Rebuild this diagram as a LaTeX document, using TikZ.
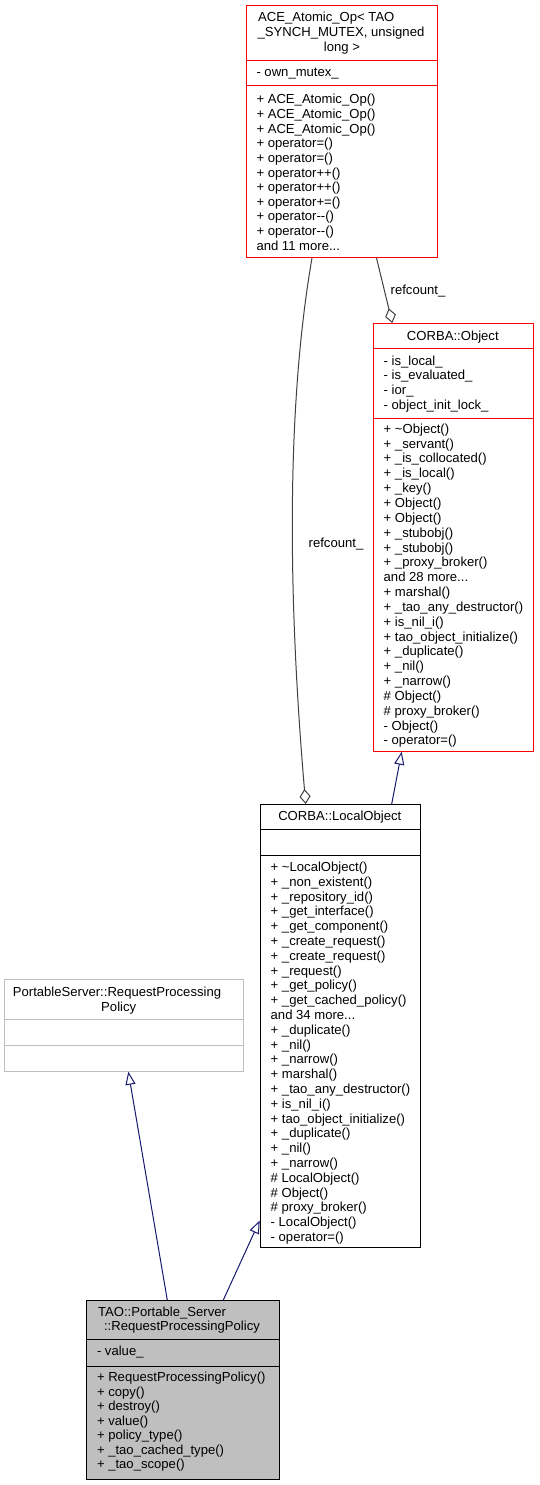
\documentclass[tikz,border=0pt]{standalone}
\usepackage{fontspec}
\setmainfont{Liberation Sans}[Ligatures=TeXOff]
\usetikzlibrary{arrows.meta,calc}
\definecolor{navy}{HTML}{191970}
\definecolor{edgegray}{HTML}{404040}
\definecolor{lgray}{HTML}{BFBFBF}
\definecolor{boxred}{HTML}{FF0000}
\newcommand\mydots{...}
\begin{document}
\begin{tikzpicture}[x=1pt,y=-1pt,line width=1pt,
  box/.style={draw,rectangle,inner sep=0pt,anchor=north west,fill=white},
  txt/.style={anchor=base west,inner sep=0pt},
  ttl/.style={anchor=base,inner sep=0pt},
  font=\fontsize{13.1}{14.8}\selectfont,
  inh/.style={draw=navy,-{Triangle[open,length=13pt,width=10pt]}},
  agg/.style={draw=edgegray,-{Diamond[open,length=15pt,width=11pt]}}]
\useasboundingbox[fill=white] (0,0) rectangle (539,1485);

% ---------- ACE_Atomic_Op ----------
\node[box,draw=boxred,minimum width=191pt,minimum height=251.5pt] (ace) at (245.5,5.5) {};
\draw[boxred] (ace.west |- 0,60.5) -- (ace.east |- 0,60.5);
\draw[boxred] (ace.west |- 0,86) -- (ace.east |- 0,86);
\node[ttl] (ace-t1) at (326.3,21.8) {ACE\_Atomic\_Op< TAO};
\node[ttl] (ace-t2) at (341,36.8) {\_SYNCH\_MUTEX, unsigned};
\node[ttl] (ace-t3) at (342,51.8) {long >};
\node[txt] (ace-a0) at (256,76.7) {- own\_mutex\_};
\foreach [count=\i from 0] \t in {+ ACE\_Atomic\_Op(),+ ACE\_Atomic\_Op(),+ ACE\_Atomic\_Op(),
  + operator=(),+ operator=(),+ operator++(),+ operator++(),+ operator+=(),
  + operator--(),+ operator--(),and 11 more\mydots}
  \node[txt] (ace-m\i) at (256,104+\i*14.6) {\t};

% ---------- CORBA::Object ----------
\node[box,draw=boxred,minimum width=160.3pt,minimum height=427.7pt] (obj) at (372.7,323) {};
\draw[boxred] (obj.west |- 0,348.3) -- (obj.east |- 0,348.3);
\draw[boxred] (obj.west |- 0,418.3) -- (obj.east |- 0,418.3);
\node[ttl] (obj-t1) at (452.8,340) {CORBA::Object};
\foreach [count=\i from 0] \t in {- is\_local\_,- is\_evaluated\_,- ior\_,- object\_init\_lock\_}
  \node[txt] (obj-a\i) at (383.2,365+\i*14.7) {\t};
\foreach [count=\i from 0] \t in {+ \textasciitilde Object(),+ \_servant(),+ \_is\_collocated(),
  + \_is\_local(),+ \_key(),+ Object(),+ Object(),+ \_stubobj(),+ \_stubobj(),
  + \_proxy\_broker(),and 28 more\mydots,+ marshal(),+ \_tao\_any\_destructor(),
  + is\_nil\_i(),+ tao\_object\_initialize(),+ \_duplicate(),+ \_nil(),
  + \_narrow(),\# Object(),\# proxy\_broker(),- Object(),- operator=()}
  \node[txt] (obj-m\i) at (383.2,433.3+\i*14.84) {\t};

% ---------- CORBA::LocalObject ----------
\node[box,draw=black,minimum width=160.3pt,minimum height=442.7pt] (lo) at (259.7,804) {};
\draw (lo.west |- 0,829.3) -- (lo.east |- 0,829.3);
\draw (lo.west |- 0,855) -- (lo.east |- 0,855);
\node[ttl] (lo-t1) at (339.8,820.7) {CORBA::LocalObject};
\foreach [count=\i from 0] \t in {+ \textasciitilde LocalObject(),+ \_non\_existent(),
  + \_repository\_id(),+ \_get\_interface(),+ \_get\_component(),
  + \_create\_request(),+ \_create\_request(),+ \_request(),+ \_get\_policy(),
  + \_get\_cached\_policy(),and 34 more\mydots,+ \_duplicate(),+ \_nil(),
  + \_narrow(),+ marshal(),+ \_tao\_any\_destructor(),+ is\_nil\_i(),
  + tao\_object\_initialize(),+ \_duplicate(),+ \_nil(),+ \_narrow(),
  \# LocalObject(),\# Object(),\# proxy\_broker(),- LocalObject(),- operator=()}
  \node[txt] (lo-m\i) at (270.2,871.5+\i*14.8) {\t};

% ---------- PortableServer::RequestProcessingPolicy ----------
\node[box,draw=lgray,minimum width=238.7pt,minimum height=91.7pt] (ps) at (4,979) {};
\draw[lgray] (ps.west |- 0,1019.3) -- (ps.east |- 0,1019.3);
\draw[lgray] (ps.west |- 0,1045) -- (ps.east |- 0,1045);
\node[ttl] (ps-t1) at (117,996.7) {PortableServer::RequestProcessing};
\node[ttl] (ps-t2) at (118.7,1011.7) {Policy};

% ---------- TAO::Portable_Server::RequestProcessingPolicy ----------
\node[box,draw=black,fill=lgray,minimum width=193pt,minimum height=178.7pt] (bot) at (86,1300) {};
\draw (bot.west |- 0,1339.3) -- (bot.east |- 0,1339.3);
\draw (bot.west |- 0,1366) -- (bot.east |- 0,1366);
\node[ttl] (bot-t1) at (162,1316) {TAO::Portable\_Server};
\node[ttl] (bot-t2) at (182,1330.7) {::RequestProcessingPolicy};
\node[txt] (bot-a0) at (96.5,1355) {- value\_};
\foreach [count=\i from 0] \t in {+ RequestProcessingPolicy(),+ copy(),+ destroy(),
  + value(),+ policy\_type(),+ \_tao\_cached\_type(),+ \_tao\_scope()}
  \node[txt] (bot-m\i) at (96.5,1381.7+\i*14.5) {\t};

% ---------- connectors ----------
\draw[agg] ([xshift=66.5pt]ace.south west) .. controls (284,420) and (290,620) .. ([xshift=46pt]lo.north west);
\node[ttl] (lbl2) at (336,547) {refcount\_};
\draw[agg] ([xshift=131pt]ace.south west) -- ([xshift=19.6pt]obj.north west);
\node[ttl] (lbl1) at (418,294) {refcount\_};
\draw[inh] ([xshift=132pt]lo.north west) -- ([xshift=29pt]obj.south west);
\draw[inh] ([xshift=81.3pt]bot.north west) -- ([xshift=124.3pt]ps.south west);
\draw[inh] ([xshift=137.3pt]bot.north west) -- ([yshift=27.2pt]lo.south west);
\end{tikzpicture}
\end{document}
